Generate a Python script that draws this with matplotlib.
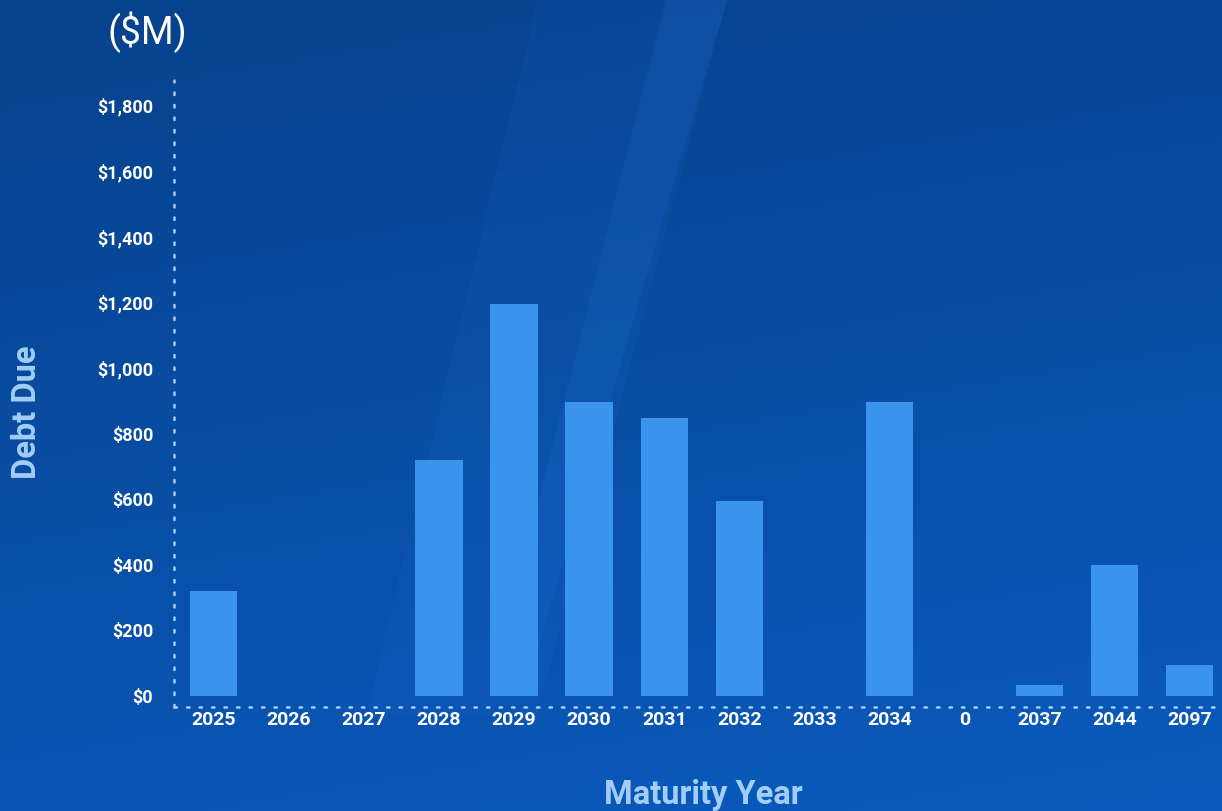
import matplotlib
matplotlib.use("Agg")
import matplotlib.pyplot as plt
import numpy as np
from matplotlib.patches import Polygon

categories = ["2025", "2026", "2027", "2028", "2029", "2030", "2031", "2032",
              "2033", "2034", "0", "2037", "2044", "2097"]
debt_due = [320, 0, 0, 720, 1195, 895, 848, 595, 0, 895, 0, 33, 398, 95]
y_ticks = [0, 200, 400, 600, 800, 1000, 1200, 1400, 1600, 1800]
y_tick_labels = ["$0", "$200", "$400", "$600", "$800", "$1,000", "$1,200",
                 "$1,400", "$1,600", "$1,800"]

plt.rcParams['font.family'] = ['Roboto', 'DejaVu Sans']

fig = plt.figure(figsize=(12.22, 8.11), dpi=100)

# background gradient
bg = fig.add_axes([0, 0, 1, 1], zorder=-10)
h, w = 200, 200
yy, xx = np.mgrid[0:1:h * 1j, 0:1:w * 1j]
top = np.array([0x07, 0x42, 0x8c]) / 255
bot = np.array([0x0a, 0x5a, 0xbd]) / 255
t = (yy * 0.8 + xx * 0.2)[..., None]
img = top * (1 - t) + bot * t
bg.imshow(img, extent=[0, 1, 1, 0], aspect='auto', interpolation='bicubic')
# subtle diagonal light streak
streak = Polygon([[0.44, 0.0], [0.595, 0.0], [0.44, 0.88], [0.30, 0.88]],
                 closed=True, facecolor='#2a7ae0', alpha=0.08, edgecolor='none')
bg.add_patch(streak)
streak2 = Polygon([[0.545, 0.0], [0.595, 0.0], [0.44, 0.80], [0.41, 0.80]],
                  closed=True, facecolor='#3a8af0', alpha=0.10, edgecolor='none')
bg.add_patch(streak2)
bg.set_xlim(0, 1)
bg.set_ylim(1, 0)
bg.axis('off')

ax = fig.add_axes([174 / 1222, 1 - 707 / 811, 1 - 174 / 1222, (707 - 80) / 811])
ax.patch.set_alpha(0)
x = np.arange(len(categories))
ax.bar(x, debt_due, width=0.63, color='#3a94ec', edgecolor='none',
       linewidth=0, zorder=3)

ax.set_xlim(-0.53, 13.43)
ax.set_ylim(-33.5, 1878)
ax.set_xticks(x)
ax.set_xticklabels(categories)
ax.set_yticks(y_ticks)
ax.set_yticklabels(y_tick_labels)
ax.tick_params(axis='both', length=0, colors='white')
ax.tick_params(axis='y', pad=15, labelsize=13)
ax.tick_params(axis='x', pad=3, labelsize=14)
for lab in ax.get_xticklabels() + ax.get_yticklabels():
    lab.set_fontweight('bold')

for s in ['top', 'right']:
    ax.spines[s].set_visible(False)
for s in ['left', 'bottom']:
    ax.spines[s].set_linestyle((0, (1, 4)))
    ax.spines[s].set_color('#a8cdf5')
    ax.spines[s].set_linewidth(1.8)
    ax.spines[s].set_capstyle('round')

fig.text(27 / 1222, 1 - 412 / 811, "Debt Due", rotation=90, ha='center',
         va='center', color='#a2cdf6', fontsize=23.5, fontweight='bold')
fig.text(703 / 1222, 1 - 795 / 811, "Maturity Year", ha='center', va='center',
         color='#a2cdf6', fontsize=23.5, fontweight='bold')
fig.text(147 / 1222, 1 - 32 / 811, "($M)", ha='center', va='center',
         color='white', fontsize=27)

fig.savefig("out.png", dpi=100)
